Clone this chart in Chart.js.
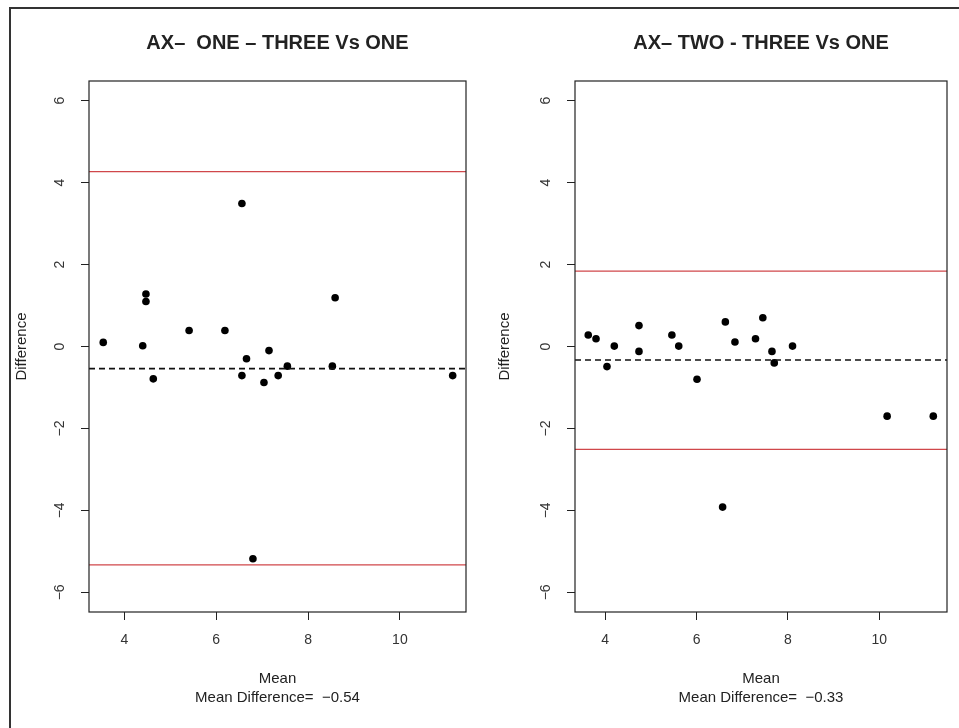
<!DOCTYPE html>
<html>
<head>
<meta charset="utf-8">
<script src="https://cdn.jsdelivr.net/npm/chart.js@4.4.1/dist/chart.umd.min.js"></script>
<style>
  body { margin: 0; background: #fff; width: 959px; height: 728px; overflow: hidden; position: relative; }
  .frame { position: absolute; left: 9px; top: 7px; width: 2000px; height: 2000px; border: 2px solid #333; pointer-events: none; }
  canvas { position: absolute; top: 0; }
  #chartOne { left: 0; }
  #chartTwo { left: 480px; }
</style>
</head>
<body>
<div class="frame"></div>
<canvas id="chartOne" width="480" height="728"></canvas>
<canvas id="chartTwo" width="479" height="728"></canvas>

<script>
// tick labels shared by both panels
const xTicks = [4, 6, 8, 10];
const yTicks = [-6, -4, -2, 0, 2, 4, 6];
const yRange = [-6.48, 6.48];

// AX- ONE - THREE Vs ONE
const oneTitle = 'AX\u2013  ONE \u2013 THREE Vs ONE';
const oneMean = [3.54, 4.47, 4.47, 4.40, 4.63, 5.41, 6.19, 6.56, 6.66, 6.56, 7.15, 7.04, 7.35, 7.55, 8.59, 8.53, 11.15, 6.80];
const oneDiff = [0.10, 1.28, 1.10, 0.02, -0.79, 0.39, 0.39, 3.49, -0.30, -0.71, -0.10, -0.88, -0.71, -0.48, 1.19, -0.48, -0.71, -5.18];
const oneMeanDiff = -0.54;
const oneLimits = [4.27, -5.33];
const oneXRange = [3.23, 11.44];

// AX- TWO - THREE Vs ONE
const twoTitle = 'AX\u2013 TWO - THREE Vs ONE';
const twoMean = [3.63, 3.80, 4.04, 4.20, 4.74, 4.74, 5.46, 5.61, 6.01, 6.63, 6.84, 7.29, 7.45, 7.65, 7.70, 8.10, 10.17, 11.18, 6.57];
const twoDiff = [0.28, 0.19, -0.49, 0.01, 0.51, -0.12, 0.28, 0.01, -0.80, 0.60, 0.11, 0.19, 0.70, -0.12, -0.40, 0.01, -1.70, -1.70, -3.92];
const twoMeanDiff = -0.33;
const twoLimits = [1.84, -2.51];
const twoXRange = [3.34, 11.48];

Chart.defaults.font.family = '"Liberation Sans", Arial, sans-serif';
Chart.defaults.color = '#333';

const minus = v => String(v).replace('-', '\u2212');

// box round the plot area and the panel title
const boxPlugin = {
    id: 'box',
    afterDraw(chart, args, opts) {
        const { ctx, chartArea: a } = chart;
        ctx.save();
        ctx.strokeStyle = '#222';
        ctx.lineWidth = 1.2;
        ctx.strokeRect(a.left, a.top, a.right - a.left, a.bottom - a.top);
        ctx.fillStyle = '#222';
        ctx.font = 'bold 20px "Liberation Sans", Arial, sans-serif';
        ctx.textAlign = 'center';
        ctx.textBaseline = 'middle';
        ctx.fillText(opts.text, (a.left + a.right) / 2, 43);
        ctx.restore();
    }
};

function hLine(y, range, color, dash, width) {
    return {
        type: 'line',
        data: [{ x: range[0], y: y }, { x: range[1], y: y }],
        borderColor: color,
        borderWidth: width,
        borderDash: dash,
        pointRadius: 0,
        fill: false
    };
}

function makeChart(id, cfg) {
    const ctx = document.getElementById(id).getContext('2d');
    return new Chart(ctx, {
        type: 'scatter',
        data: {
            datasets: [
                hLine(cfg.limits[0], cfg.xRange, '#d0474a', [], 1.3),
                hLine(cfg.limits[1], cfg.xRange, '#d0474a', [], 1.3),
                hLine(cfg.meanDiff, cfg.xRange, '#111', [6, 4], 1.6),
                {
                    data: cfg.x.map((v, i) => ({ x: v, y: cfg.y[i] })),
                    backgroundColor: '#000',
                    borderColor: '#000',
                    pointRadius: 3.8,
                    pointBorderWidth: 0
                }
            ]
        },
        options: {
            responsive: false,
            animation: false,
            layout: { padding: { top: 81, right: cfg.padRight, bottom: 0, left: 0 } },
            plugins: {
                legend: { display: false },
                tooltip: { enabled: false },
                box: { text: cfg.title }
            },
            scales: {
                x: {
                    type: 'linear',
                    min: cfg.xRange[0],
                    max: cfg.xRange[1],
                    afterBuildTicks: s => { s.ticks = xTicks.map(v => ({ value: v })); },
                    afterFit: s => { s.height = 116; },
                    border: { display: false },
                    grid: { drawOnChartArea: false, color: '#222', tickLength: 8 },
                    ticks: { font: { size: 14 }, padding: 12, color: '#333' },
                    title: {
                        display: true,
                        text: ['Mean', 'Mean Difference=  ' + minus(cfg.meanDiff)],
                        font: { size: 15, lineHeight: 19 / 15 },
                        color: '#222',
                        padding: { top: 0, bottom: 21 }
                    }
                },
                y: {
                    type: 'linear',
                    min: yRange[0],
                    max: yRange[1],
                    afterBuildTicks: s => { s.ticks = yTicks.map(v => ({ value: v })); },
                    afterFit: s => { s.width = cfg.yWidth; },
                    border: { display: false },
                    grid: { drawOnChartArea: false, color: '#222', tickLength: 8 },
                    ticks: {
                        font: { size: 14 },
                        color: '#333',
                        minRotation: 90,
                        maxRotation: 90,
                        crossAlign: 'center',
                        padding: cfg.tickPad,
                        callback: v => minus(v)
                    },
                    title: {
                        display: true,
                        text: 'Difference',
                        font: { size: 15 },
                        color: '#222',
                        padding: { top: cfg.titlePad, bottom: 0 }
                    }
                }
            }
        },
        plugins: [boxPlugin]
    });
}

makeChart('chartOne', {
    title: oneTitle, x: oneMean, y: oneDiff, meanDiff: oneMeanDiff,
    limits: oneLimits, xRange: oneXRange,
    yWidth: 89, padRight: 14, tickPad: 13, titlePad: 13
});

makeChart('chartTwo', {
    title: twoTitle, x: twoMean, y: twoDiff, meanDiff: twoMeanDiff,
    limits: twoLimits, xRange: twoXRange,
    yWidth: 95, padRight: 12, tickPad: 13, titlePad: 16
});
</script>
</body>
</html>
